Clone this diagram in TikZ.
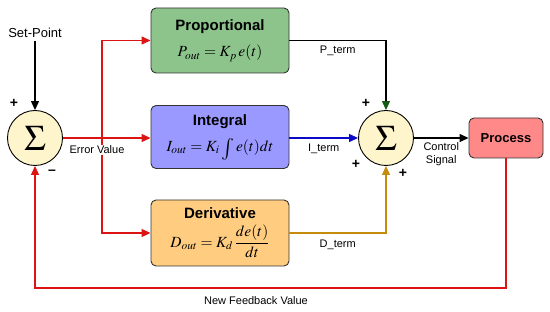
\documentclass[tikz,border=0pt]{standalone}
\usepackage{mathptmx}
\usepackage{fontspec}
\setmainfont{Liberation Sans}
\usetikzlibrary{arrows.meta}
\definecolor{propgreen}{RGB}{140,196,140}
\definecolor{integblue}{RGB}{153,153,255}
\definecolor{derivorange}{RGB}{255,204,128}
\definecolor{procred}{RGB}{255,136,136}
\definecolor{sumyellow}{RGB}{255,245,204}
\definecolor{fbred}{RGB}{220,20,20}
\definecolor{itermblue}{RGB}{10,10,200}
\definecolor{ptermgreen}{RGB}{20,90,20}
\definecolor{dtermgold}{RGB}{196,140,10}
\begin{document}
\begin{tikzpicture}[x=1pt,y=-1pt,
  block/.style={draw=black!80,line width=0.9pt,rounded corners=5pt,align=center,minimum width=138pt},
  sumnode/.style={circle,draw=black,line width=0.9pt,fill=sumyellow,minimum size=55pt,inner sep=0pt,font=\fontsize{36}{36}\selectfont},
  lbl/.style={font=\fontsize{11}{13}\selectfont,align=center,text=black},
  sign/.style={font=\fontsize{14}{14}\selectfont\bfseries},
  wire/.style={line width=1.2pt,-{Triangle[length=9pt,width=8pt]}}]
\useasboundingbox (0,0) rectangle (550,312);

\node[font=\fontsize{13}{15}\selectfont] (setpt) at (35,33) {Set-Point};
\node[sumnode] (sumL) at (35,138) {$\Sigma$};
\node[sumnode] (sumR) at (386,138) {$\Sigma$};

\node[block,fill=propgreen,minimum height=65pt] (prop) at (220,40.5)
  {{\fontsize{15}{18}\selectfont\bfseries Proportional}\\[11pt]{\fontsize{15.5}{17}\selectfont$P_{out}=K_p\,e(t)$}};
\node[block,fill=integblue,minimum height=63pt] (integ) at (220,137)
  {{\fontsize{15}{18}\selectfont\bfseries Integral}\\[9pt]{\fontsize{15.5}{17}\selectfont$I_{out}=K_i\,\raisebox{-3pt}{\scalebox{1.4}{$\int$}}\,e(t)dt$}};
\node[block,fill=derivorange,minimum height=66pt] (deriv) at (220,233)
  {{\fontsize{15}{18}\selectfont\bfseries Derivative}\\[5pt]{\fontsize{15.5}{17}\selectfont$D_{out}=K_d\,\displaystyle\frac{de(t)}{dt}$}};
\node[block,fill=procred,minimum width=74pt,minimum height=40pt,font=\fontsize{13}{15}\selectfont\bfseries] (proc) at (506,138) {Process};

\coordinate (branch) at (102,138);
\coordinate (fbcorner) at (506,288);

\draw[wire] (setpt) -- (sumL);
\draw[wire,fbred] (sumL.east) -- (sumL.east -| integ.west);
\draw[wire,fbred] (branch) |- (prop.west);
\draw[wire,fbred] (branch) |- (deriv.west);
\node[lbl,fill=white,inner sep=1pt] (errval) at (97,150) {Error Value};

\draw[wire,black,-{Triangle[length=9pt,width=8pt,color=ptermgreen]}] (prop.east) -| node[lbl,pos=0.25,below=2pt] {P\_term} (sumR.north);
\draw[wire,itermblue] (integ.east |- sumR) -- node[lbl,below=2pt] {I\_term} (sumR.west);
\draw[wire,dtermgold] (deriv.east) -| node[lbl,pos=0.25,below=3pt] {D\_term} (sumR.south);
\draw[wire] (sumR.east) -- node[lbl,below=1pt,text depth=0pt] {Control\\Signal} (proc.west);
\draw[wire,fbred] (proc.south) -- (fbcorner) -| (sumL.south);
\node[lbl] (fbval) at (256,301) {New Feedback Value};

\node[sign] at (14,103) {+};
\node[sign] at (52,172) {--};
\node[sign] at (366,103) {+};
\node[sign] at (356,164) {+};
\node[sign] at (403,173) {+};
\end{tikzpicture}
\end{document}
